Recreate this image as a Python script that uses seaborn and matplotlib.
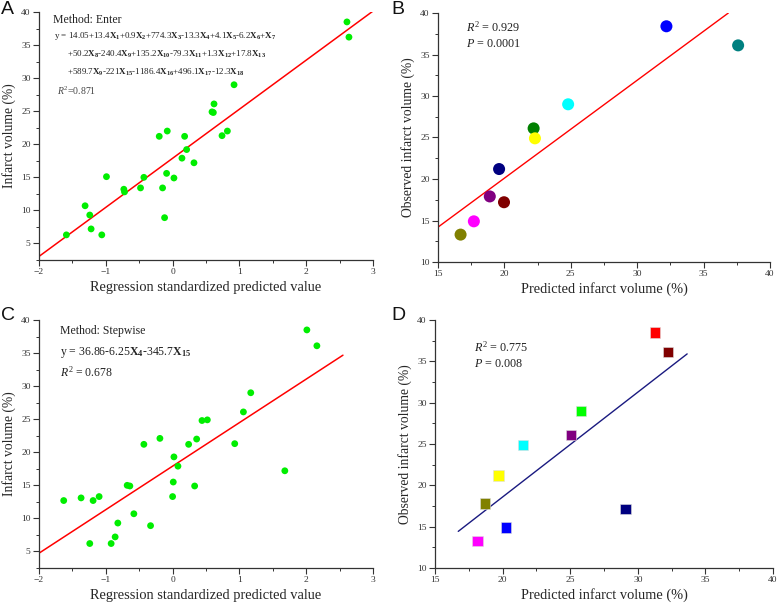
import matplotlib
matplotlib.use('Agg')
import matplotlib.pyplot as plt
from matplotlib.ticker import MultipleLocator
import seaborn as sns
import numpy as np
import pandas as pd

# ---- data ----
# panel A: enter method, standardized predicted value vs infarct volume
a_pred = [2.61, 2.64, 0.92, 0.62, 0.59, 0.61, 0.82, 0.74, -0.08, -0.20, 0.18, 0.21, 0.14, 0.32,
          -0.09, 0.02, -0.43, -0.99, -0.73, -0.72, -0.48, -0.15, -0.12, -1.31, -1.24, -1.22,
          -1.59, -1.06]
a_vol = [38.5, 36.2, 29.0, 26.1, 24.9, 24.8, 22.0, 21.3, 22.0, 21.2, 21.2, 19.2, 17.9, 17.2,
         15.6, 14.9, 15.0, 15.1, 13.2, 12.8, 13.4, 13.4, 8.9, 10.7, 9.3, 7.2, 6.3, 6.3]
a_fit = (17.88, 7.42)      # intercept, slope
a_fit_range = (-2.0, 3.0)

# panel C: stepwise method
c_pred = [2.01, 2.16, 1.17, 1.06, 0.44, 0.52, 0.93, 1.68, -0.19, -0.43, 0.24, 0.36, 0.02, 0.08,
          0.01, 0.00, 0.33, -0.68, -0.64, -0.58, -0.33, -1.10, -1.37, -1.19, -1.63, -0.82,
          -0.86, -0.92, -1.24]
c_vol = [38.5, 36.1, 29.0, 26.1, 24.8, 24.9, 21.3, 17.2, 22.1, 21.2, 21.2, 22.0, 19.3, 17.9,
         15.5, 13.3, 14.9, 15.0, 14.9, 10.7, 8.9, 13.3, 13.1, 12.7, 12.7, 9.3, 7.2, 6.2, 6.2]
c_fit = (17.9, 6.58)
c_fit_range = (-2.0, 2.55)

# panel B: predicted vs observed (enter)
b_pred = [32.2, 37.6, 24.8, 22.2, 22.3, 19.6, 18.9, 19.97, 17.7, 16.7]
b_obs = [38.4, 36.1, 29.0, 26.1, 24.9, 21.2, 17.9, 17.2, 14.9, 13.3]
b_colors = ['#0000ff', '#008080', '#00ffff', '#008000', '#ffff00', '#000080', '#800080',
            '#800000', '#ff00ff', '#808000']
b_fit = (-3.5, 1.18)
b_fit_range = (15.0, 36.86)

# panel D: predicted vs observed (stepwise)
d_pred = [31.28, 32.24, 25.79, 25.07, 21.5, 19.7, 18.7, 29.1, 20.27, 18.15]
d_obs = [38.5, 36.1, 29.0, 26.1, 24.9, 21.2, 17.8, 17.1, 14.9, 13.3]
d_colors = ['#ff0000', '#800000', '#00ff00', '#800080', '#00ffff', '#ffff00', '#808000',
            '#000080', '#0000ff', '#ff00ff']
d_fit = (-6.77, 1.268)
d_fit_range = (16.72, 33.65)

sns.set_theme(style='ticks')
plt.rcParams['font.family'] = ['Liberation Serif', 'DejaVu Serif']
plt.rcParams['mathtext.fontset'] = 'custom'
plt.rcParams['mathtext.rm'] = 'Liberation Serif'
plt.rcParams['mathtext.it'] = 'Liberation Serif:italic'
plt.rcParams['mathtext.bf'] = 'Liberation Serif:bold'

W, H = 778, 606
fig = plt.figure(figsize=(W / 100, H / 100), dpi=100)


def px_axes(l, t, r, b):
    return fig.add_axes([l / W, 1 - b / H, (r - l) / W, (b - t) / H])


def ftext(x, y, s, size=9, color='#222222'):
    fig.text(x / W, 1 - y / H, s, fontsize=size, va='center', ha='left', color=color)


def style_axes(ax, xlim, ylim, xmaj, ymaj, xlabel, ylabel):
    ax.set_xlim(*xlim)
    ax.set_ylim(*ylim)
    ax.xaxis.set_major_locator(MultipleLocator(xmaj))
    ax.xaxis.set_minor_locator(MultipleLocator(xmaj / 2))
    ax.yaxis.set_major_locator(MultipleLocator(ymaj))
    ax.yaxis.set_minor_locator(MultipleLocator(ymaj / 2))
    sns.despine(ax=ax)
    for sp in ('left', 'bottom'):
        ax.spines[sp].set_linewidth(0.9)
        ax.spines[sp].set_color('#333333')
    ax.tick_params(which='major', direction='out', length=4, width=0.8, labelsize=6.8,
                   colors='#333333', pad=2)
    ax.tick_params(which='minor', direction='out', length=2.5, width=0.7, colors='#333333')
    ax.set_xlabel(xlabel, fontsize=10.4, labelpad=3)
    ax.set_ylabel(ylabel, fontsize=9.8, labelpad=4)


def fit_line(ax, fit, rng, color, lw=1.1):
    xs = np.array(rng)
    sns.lineplot(x=xs, y=fit[0] + fit[1] * xs, ax=ax, color=color, linewidth=lw)


# ---- A ----
axA = px_axes(39, 12, 373, 260)
sns.scatterplot(x=a_pred, y=a_vol, ax=axA, color='#00ee00', s=24, edgecolor='none', zorder=3)
fit_line(axA, a_fit, a_fit_range, '#ff0000')
style_axes(axA, (-2, 3), (2.5, 40), 1, 5, 'Regression standardized predicted value',
           'Infarct volume (%)')
ftext(53, 20, 'Method: Enter', size=8.5)
ftext(54, 36, r'y = 14.05+13.4$\mathbf{X_1}$+0.9$\mathbf{X_2}$+774.3$\mathbf{X_3}$-13.3$\mathbf{X_4}$'
              r'+4.1$\mathbf{X_5}$-6.2$\mathbf{X_6}$+$\mathbf{X_7}$', size=6.5)
ftext(67, 54, r'+50.2$\mathbf{X_8}$-240.4$\mathbf{X_9}$+135.2$\mathbf{X_{10}}$-79.3$\mathbf{X_{11}}$'
              r'+1.3$\mathbf{X_{12}}$+17.8$\mathbf{X_{13}}$', size=6.5)
ftext(67, 72, r'+589.7$\mathbf{X_9}$-221$\mathbf{X_{15}}$-1186.4$\mathbf{X_{16}}$+496.1$\mathbf{X_{17}}$'
              r'-12.3$\mathbf{X_{18}}$', size=6.5)
ftext(57, 91, r'$\mathit{R}^2$=0.871', size=7, color='#444444')

# ---- B ----
axB = px_axes(438, 13, 770, 262)
dfB = pd.DataFrame({'pred': b_pred, 'obs': b_obs, 'grp': range(len(b_pred))})
sns.scatterplot(data=dfB, x='pred', y='obs', hue='grp', palette=b_colors, ax=axB, s=75,
                edgecolor='none', legend=False, zorder=3)
fit_line(axB, b_fit, b_fit_range, '#ff0000', lw=1.0)
style_axes(axB, (15, 40), (10, 40), 5, 5, 'Predicted infarct volume (%)',
           'Observed infarct volume (%)')
ftext(466, 27, r'$\mathit{R}^2$ = 0.929', size=8.7)
ftext(466, 44, r'$\mathit{P}$ = 0.0001', size=8.7)

# ---- C ----
axC = px_axes(39, 320, 373, 568)
sns.scatterplot(x=c_pred, y=c_vol, ax=axC, color='#00ee00', s=24, edgecolor='none', zorder=3)
fit_line(axC, c_fit, c_fit_range, '#ff0000')
style_axes(axC, (-2, 3), (2.5, 40), 1, 5, 'Regression standardized predicted value',
           'Infarct volume (%)')
ftext(60, 331, 'Method: Stepwise', size=8.5)
ftext(60, 352, r'y = 36.86-6.25$\mathbf{X_4}$-345.7$\mathbf{X_{15}}$', size=8.5)
ftext(60, 372, r'$\mathit{R}^2$ = 0.678', size=8.5)

# ---- D ----
axD = px_axes(435, 320, 773, 568)
dfD = pd.DataFrame({'pred': d_pred, 'obs': d_obs, 'grp': range(len(d_pred))})
sns.scatterplot(data=dfD, x='pred', y='obs', hue='grp', palette=d_colors, ax=axD, s=55,
                marker='s', edgecolor='#dddddd', linewidth=0.4, legend=False, zorder=3)
fit_line(axD, d_fit, d_fit_range, '#1a1a80', lw=1.0)
style_axes(axD, (15, 40), (10, 40), 5, 5, 'Predicted infarct volume (%)',
           'Observed infarct volume (%)')
ftext(474, 347, r'$\mathit{R}^2$ = 0.775', size=8.7)
ftext(474, 364, r'$\mathit{P}$ = 0.008', size=8.7)

# panel letters
for lab, (x, y) in zip('ABCD', [(1, 9), (391, 9), (1, 315), (391, 315)]):
    fig.text(x / W, 1 - y / H, lab, fontsize=14, family='Liberation Sans', va='center',
             ha='left', color='#111111')

fig.savefig('out.png', dpi=100)
